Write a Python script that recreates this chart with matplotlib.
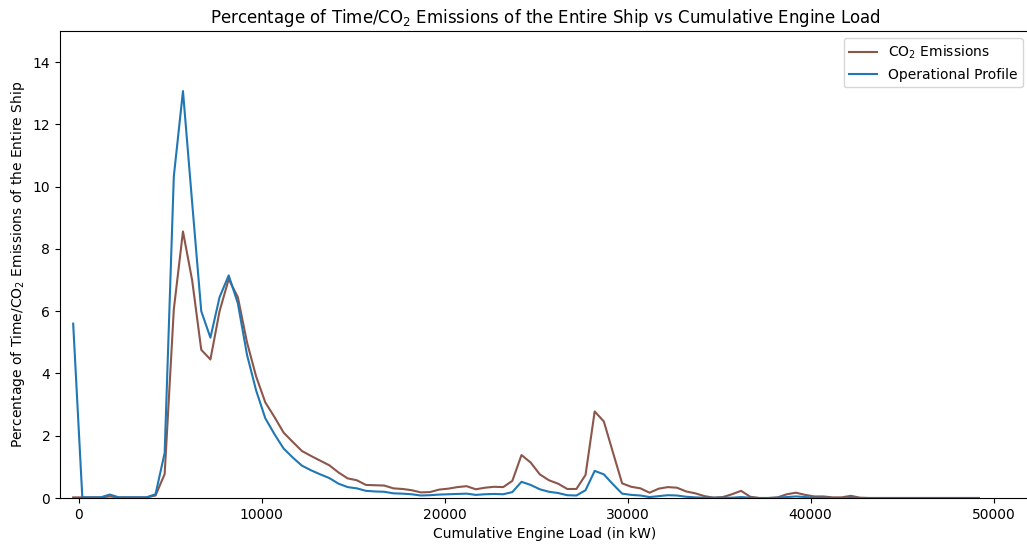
import numpy as np
import matplotlib
matplotlib.use("Agg")
import matplotlib.pyplot as plt

# engine load bins (kW), 500 kW apart
load_kw = np.arange(-300, 49500, 500)

co2 = [0.02, 0.02, 0.02, 0.02, 0.05, 0.02, 0.02, 0.02, 0.02, 0.08,
       0.77, 6.06, 8.56, 7.0, 4.76, 4.45, 6.0, 7.03, 6.45, 5.0,
       3.9, 3.07, 2.6, 2.1, 1.8, 1.51, 1.35, 1.2, 1.05, 0.82,
       0.63, 0.57, 0.42, 0.41, 0.4, 0.31, 0.29, 0.25, 0.18, 0.19,
       0.27, 0.3, 0.35, 0.38, 0.28, 0.33, 0.36, 0.35, 0.55, 1.38,
       1.14, 0.76, 0.57, 0.46, 0.29, 0.29, 0.74, 2.78, 2.46, 1.46,
       0.47, 0.36, 0.31, 0.17, 0.3, 0.35, 0.33, 0.21, 0.15, 0.06,
       0.01, 0.03, 0.12, 0.23, 0.04, 0.0, 0.0, 0.02, 0.12, 0.17,
       0.1, 0.05, 0.05, 0.02, 0.02, 0.07, 0.01, 0.0, 0.0, 0.0,
       0.0, 0.0, 0.0, 0.0, 0.0, 0.0, 0.0, 0.0, 0.0, 0.0]

ops = [5.6, 0.02, 0.02, 0.02, 0.11, 0.02, 0.02, 0.02, 0.02, 0.12,
       1.45, 10.33, 13.07, 9.5, 6.0, 5.15, 6.45, 7.15, 6.25, 4.6,
       3.45, 2.56, 2.05, 1.59, 1.3, 1.04, 0.89, 0.76, 0.64, 0.46,
       0.35, 0.31, 0.23, 0.21, 0.2, 0.15, 0.14, 0.12, 0.08, 0.09,
       0.11, 0.12, 0.13, 0.14, 0.1, 0.12, 0.13, 0.12, 0.19, 0.52,
       0.42, 0.28, 0.2, 0.16, 0.09, 0.08, 0.25, 0.87, 0.76, 0.44,
       0.14, 0.1, 0.08, 0.03, 0.06, 0.09, 0.08, 0.04, 0.02, 0.01,
       0.01, 0.01, 0.01, 0.03, 0.01, 0.0, 0.0, 0.01, 0.03, 0.05,
       0.03, 0.01, 0.01, 0.0, 0.0, 0.01, 0.0, 0.0, 0.0, 0.0,
       0.0, 0.0, 0.0, 0.0, 0.0, 0.0, 0.0, 0.0, 0.0, 0.0]

fig = plt.figure(figsize=(10.27, 5.46), dpi=100)
ax = fig.add_axes([60/1027, 48/546, 970/1027, 467/546])

ax.plot(load_kw, co2, color='tab:brown', label='CO$_2$ Emissions')
ax.plot(load_kw, ops, color='tab:blue', label='Operational Profile')

ax.set_xlim(-1020, 51990)
ax.set_ylim(0, 15)
ax.set_title('Percentage of Time/CO$_2$ Emissions of the Entire Ship vs Cumulative Engine Load')
ax.set_xlabel('Cumulative Engine Load (in kW)')
ax.set_ylabel('Percentage of Time/CO$_2$ Emissions of the Entire Ship')
ax.legend(loc='upper right')

fig.savefig('out.png', dpi=100)
